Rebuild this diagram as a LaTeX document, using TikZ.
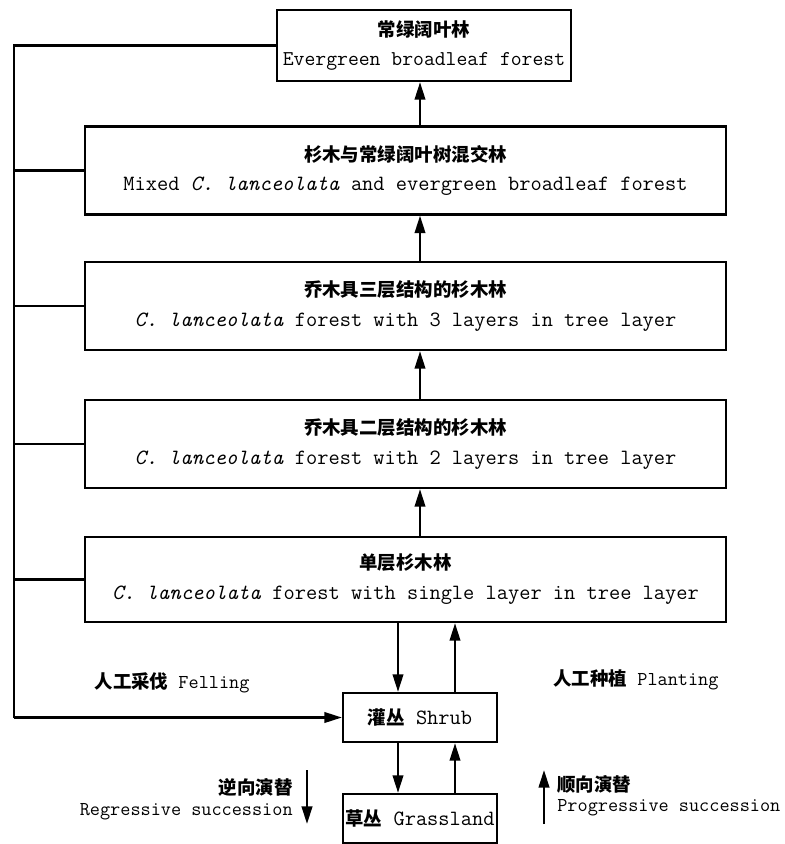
\documentclass[tikz,border=0pt]{standalone}
\usepackage{fontspec}
\newfontfamily\cjk{Noto Sans CJK SC}
\usetikzlibrary{positioning}
\usetikzlibrary{arrows.meta}
\tikzstyle{stage}=[draw=black, line width=1.3pt, align=center, inner sep=0pt,
    font=\fontsize{12.4}{17}\ttfamily]
\tikzstyle{link}=[line width=1.3pt, -{Triangle[length=10pt,width=6pt]}]
\tikzstyle{note}=[font=\fontsize{11.2}{16}\ttfamily, inner sep=0pt]
\newcommand{\cn}[1]{{\cjk\bfseries\fontsize{10.5}{17}\selectfont #1}}
\newcommand{\cl}{\textit{C. lanceolata}}

\begin{document}
\begin{tikzpicture}[x=0.02cm, y=-0.02cm]
          \useasboundingbox (0,0) rectangle (784,844);
          % stages
          \node[stage, font=\fontsize{12}{17}\ttfamily, minimum width=294*0.02cm, minimum height=71*0.02cm] (ebf) at (424,45.5)
               {\cn{常绿阔叶林}\\Evergreen broadleaf forest};
          \node[stage, minimum width=641*0.02cm, minimum height=88*0.02cm] (mixed) at (405.5,170.5)
               {\cn{杉木与常绿阔叶树混交林}\\Mixed \cl{} and evergreen broadleaf forest};
          \node[stage, minimum width=641*0.02cm, minimum height=88*0.02cm] (three) at (405.5,306)
               {\cn{乔木具三层结构的杉木林}\\\cl{} forest with 3 layers in tree layer};
          \node[stage, minimum width=641*0.02cm, minimum height=88*0.02cm] (two) at (405.5,444)
               {\cn{乔木具二层结构的杉木林}\\\cl{} forest with 2 layers in tree layer};
          \node[stage, minimum width=641*0.02cm, minimum height=85*0.02cm] (single) at (405.5,579.5)
               {\cn{单层杉木林}\\\cl{} forest with single layer in tree layer};
          \node[stage, minimum width=154*0.02cm, minimum height=49*0.02cm] (shrub) at (420,717.5)
               {\cn{灌丛} Shrub};
          \node[stage, minimum width=154*0.02cm, minimum height=49*0.02cm] (grass) at (420,818.5)
               {\cn{草丛} Grassland};
          % progressive steps
          \coordinate (col) at (420,0);
          \coordinate (up) at (455,0);
          \coordinate (down) at (398,0);
          \draw[link] (mixed.north -| col) -- (ebf.south -| col);
          \draw[link] (three.north -| col) -- (mixed.south -| col);
          \draw[link] (two.north -| col) -- (three.south -| col);
          \draw[link] (single.north -| col) -- (two.south -| col);
          \draw[link] (shrub.north -| up) -- (single.south -| up);
          \draw[link] (grass.north -| up) -- (shrub.south -| up);
          % regressive steps
          \draw[link] (single.south -| down) -- (shrub.north -| down);
          \draw[link] (shrub.south -| down) -- (grass.north -| down);
          % felling
          \coordinate (top) at (14,45.5);
          \coordinate (bot) at (14,717.5);
          \draw[line width=1.3pt] (ebf.west) -- (top) -- (bot);
          \draw[link] (bot) -- (shrub.west);
          \draw[line width=1.3pt] (mixed.west) -- (mixed.west -| top);
          \draw[line width=1.3pt] (three.west) -- (three.west -| top);
          \draw[line width=1.3pt] (two.west) -- (two.west -| top);
          \draw[line width=1.3pt] (single.west) -- (single.west -| top);
          \node[note] (felling) at (172,683) {\cn{人工采伐} Felling};
          \node[note] (planting) at (636,680) {\cn{人工种植} Planting};
          % legend
          \coordinate (rtop) at (307,770);
          \coordinate (rbot) at (307,824);
          \draw[link] (rtop) -- (rbot);
          \node[note, anchor=east] (regcn) at (293,787) {\cn{逆向演替}};
          \node[note, anchor=east] (regen) at (293,812) {Regressive succession};
          \coordinate (ptop) at (544,770);
          \coordinate (pbot) at (544,824);
          \draw[link] (pbot) -- (ptop);
          \node[note, anchor=west] (procn) at (557,784) {\cn{顺向演替}};
          \node[note, anchor=west] (proen) at (557,808) {Progressive succession};
        \end{tikzpicture}
\end{document}
